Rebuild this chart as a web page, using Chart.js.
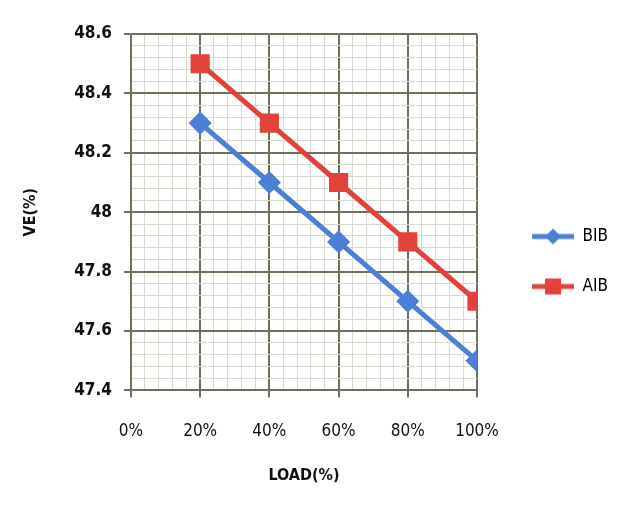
<!DOCTYPE html>
<html>
<head>
<meta charset="utf-8">
<script src="https://cdn.jsdelivr.net/npm/chart.js@4"></script>
<style>
  html, body { margin: 0; padding: 0; background: #fff; }
  #wrap { width: 618px; height: 517px; }
</style>
</head>
<body>
<div id="wrap"><canvas id="veChart" width="618" height="517"></canvas></div>
<script>
const loads = [20, 40, 60, 80, 100];
const bib = [48.3, 48.1, 47.9, 47.7, 47.5];
const aib = [48.5, 48.3, 48.1, 47.9, 47.7];
const xTickLabels = ['0%', '20%', '40%', '60%', '80%', '100%'];
const yTickLabels = ['47.4', '47.6', '47.8', '48', '48.2', '48.4', '48.6'];

const blue = '#4d7fd8';
const red = '#e2423b';
const majorGrid = '#6f6f5a';
const minorGrid = '#d9d9d2';

// legend icon: blank gap on the left, then a short line with the marker on it
function legendIcon(color, shape) {
    const c = document.createElement('canvas');
    c.width = 64; c.height = 20;
    const g = c.getContext('2d');
    g.strokeStyle = color; g.lineWidth = 5;
    g.beginPath(); g.moveTo(22, 10); g.lineTo(64, 10); g.stroke();
    g.fillStyle = color;
    if (shape === 'diamond') {
        g.beginPath(); g.moveTo(43, 2); g.lineTo(51, 10); g.lineTo(43, 18); g.lineTo(35, 10); g.closePath(); g.fill();
    } else {
        g.fillRect(35, 2, 16, 16);
    }
    return c;
}
const icons = [legendIcon(blue, 'diamond'), legendIcon(red, 'square')];

function isMajorX(v) { return Math.round(v) % 20 === 0; }
function isMajorY(v) { return Math.round(v * 100) % 20 === 0; }

new Chart(document.getElementById('veChart'), {
    type: 'line',
    data: {
        datasets: [
            {
                label: 'BIB',
                data: loads.map((x, i) => ({ x: x, y: bib[i] })),
                borderColor: blue,
                backgroundColor: blue,
                borderWidth: 5,
                pointStyle: 'rectRot',
                pointRadius: 8,
                pointHoverRadius: 8
            },
            {
                label: 'AIB',
                data: loads.map((x, i) => ({ x: x, y: aib[i] })),
                borderColor: red,
                backgroundColor: red,
                borderWidth: 5,
                pointStyle: 'rect',
                pointRadius: 10,
                pointHoverRadius: 10
            }
        ]
    },
    options: {
        responsive: false,
        animation: false,
        layout: { padding: { left: 17, right: 0, top: 34, bottom: 28 } },
        plugins: {
            legend: {
                position: 'right',
                labels: {
                    usePointStyle: true,
                    pointStyleWidth: 64,
                    padding: 33,
                    color: '#111',
                    font: { family: 'DejaVu Sans Condensed', size: 17 },
                    generateLabels: chart => chart.data.datasets.map((ds, i) => ({
                        text: ds.label,
                        pointStyle: icons[i],
                        fillStyle: ds.borderColor,
                        strokeStyle: ds.borderColor,
                        lineWidth: 0,
                        datasetIndex: i
                    }))
                }
            },
            tooltip: { enabled: false }
        },
        scales: {
            x: {
                type: 'linear',
                min: 0,
                max: 100,
                ticks: {
                    stepSize: 4,
                    autoSkip: false,
                    maxRotation: 0,
                    padding: 24,
                    color: '#111',
                    font: { family: 'DejaVu Sans Condensed', size: 17 },
                    callback: v => isMajorX(v) ? xTickLabels[Math.round(v) / 20] : ''
                },
                grid: {
                    color: ctx => isMajorX(ctx.tick.value) ? majorGrid : minorGrid,
                    lineWidth: ctx => isMajorX(ctx.tick.value) ? 2 : 1,
                    tickColor: ctx => isMajorX(ctx.tick.value) ? majorGrid : 'rgba(0,0,0,0)',
                    tickLength: 7
                },
                border: { color: majorGrid, width: 2 },
                title: {
                    display: true,
                    text: 'LOAD(%)',
                    color: '#111',
                    font: { family: 'DejaVu Sans Condensed', size: 16, weight: 'bold' },
                    padding: { top: 0 }
                }
            },
            y: {
                min: 47.4,
                max: 48.6,
                ticks: {
                    stepSize: 0.04,
                    autoSkip: false,
                    padding: 12,
                    color: '#111',
                    font: { family: 'DejaVu Sans Condensed', size: 17, weight: 'bold' },
                    callback: v => isMajorY(v) ? yTickLabels[Math.round((v - 47.4) * 5)] : ''
                },
                grid: {
                    color: ctx => isMajorY(ctx.tick.value) ? majorGrid : minorGrid,
                    lineWidth: ctx => isMajorY(ctx.tick.value) ? 2 : 1,
                    tickColor: ctx => isMajorY(ctx.tick.value) ? majorGrid : 'rgba(0,0,0,0)',
                    tickLength: 7
                },
                border: { color: majorGrid, width: 2 },
                title: {
                    display: true,
                    text: 'VE(%)',
                    color: '#111',
                    font: { family: 'DejaVu Sans Condensed', size: 16, weight: 'bold' },
                    padding: { bottom: 22 }
                }
            }
        }
    }
});
</script>
</body>
</html>
